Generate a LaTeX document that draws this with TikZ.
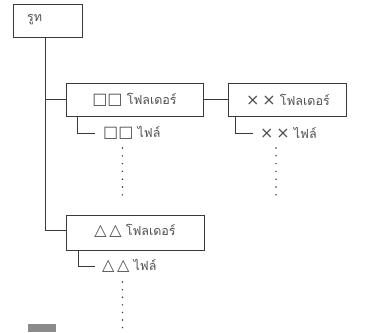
\documentclass[tikz,border=0pt]{standalone}
\usepackage{fontspec}
\newfontfamily\thaifont[Script=Thai]{Loma}
\newfontfamily\symfont{DejaVu Sans}
\definecolor{linec}{HTML}{3A3A3A}
\definecolor{textc}{HTML}{505050}
\definecolor{barc}{HTML}{8A8A8A}
\newcommand{\sym}[1]{{\symfont\fontsize{16}{16}\selectfont #1}}
\begin{document}
\begin{tikzpicture}[x=1pt,y=-1pt,
  boxst/.style={draw=linec,line width=1pt,fill=white},
  conn/.style={draw=linec,line width=1pt},
  lbl/.style={text=textc,font=\thaifont\fontsize{12.5}{14}\selectfont,inner sep=0pt},
  dotst/.style={fill=black!80,circle,inner sep=0pt,minimum size=1.6pt}]
\useasboundingbox (0,0) rectangle (366,332);
% boxes
\draw[boxst] (13,4) rectangle (82,37);
\node[lbl,anchor=west] (root) at (27,20) {รูท};
\coordinate (rootb) at (45,37);
\draw[boxst] (66,83) rectangle (203,116);
\coordinate (f1l) at (66,99.5);
\coordinate (f1r) at (203,99.5);
\node[lbl] (f1) at (134.5,99.5) {\sym{□□} โฟลเดอร์};
\draw[boxst] (228,83) rectangle (346,116);
\coordinate (f2l) at (228,99.5);
\node[lbl] (f2) at (288,99.5) {\sym{×\,×} โฟลเดอร์};
\draw[boxst] (66,215) rectangle (204,250);
\coordinate (f3l) at (66,230);
\node[lbl] (f3) at (135,231) {\sym{△\,△} โฟลเดอร์};
% trunk
\coordinate (tj1) at (45,99.5);
\coordinate (tj3) at (45,230);
\draw[conn] (rootb) -- (tj3) -- (f3l);
\draw[conn] (tj1) -- (f1l);
\draw[conn] (f1r) -- (f2l);
% files
\node[lbl,anchor=west] (file1) at (103,133) {\sym{□□} ไฟล์};
\coordinate (a1) at (77,116);
\coordinate (b1) at (77,133);
\coordinate (c1) at (95,133);
\draw[conn] (a1) -- (b1) -- (c1);
\node[lbl,anchor=west] (file2) at (260,133) {\sym{×\,×} ไฟล์};
\coordinate (a2) at (235,116);
\coordinate (b2) at (235,133);
\coordinate (c2) at (253,133);
\draw[conn] (a2) -- (b2) -- (c2);
\node[lbl,anchor=west] (file3) at (102,266) {\sym{△\,△} ไฟล์};
\coordinate (a3) at (78,250);
\coordinate (b3) at (78,266);
\coordinate (c3) at (95,266);
\draw[conn] (a3) -- (b3) -- (c3);
% dots
\foreach \i in {0,...,6} {
  \node[dotst] (d1\i) at (122.5,148+7.8*\i) {};
  \node[dotst] (d2\i) at (276,148+7.8*\i) {};
  \node[dotst] (d3\i) at (122.5,282+7.6*\i) {};
}
% gray bar
\fill[barc] (28,324) rectangle (56,332);
\end{tikzpicture}
\end{document}
